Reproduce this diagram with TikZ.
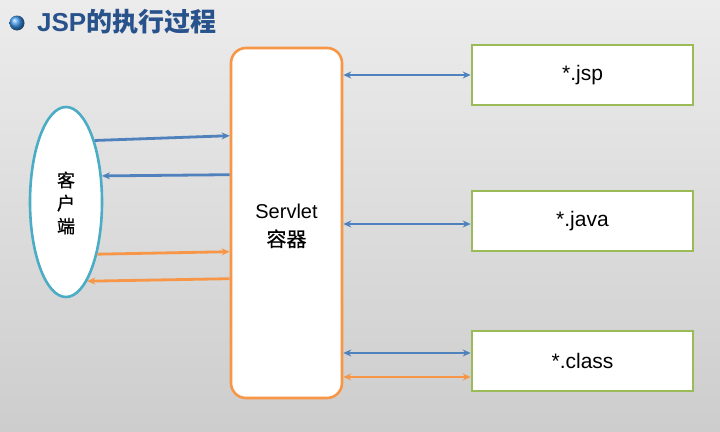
\documentclass[tikz,border=0pt]{standalone}
\usepackage{fontspec}
\setmainfont{Liberation Sans}
\newfontfamily\cjk{Noto Sans CJK SC}
\newfontfamily\cjkm[FakeBold=0.8]{Noto Sans CJK SC}
\usetikzlibrary{shapes.geometric,calc,arrows.meta}
\definecolor{bgtop}{RGB}{236,236,236}
\definecolor{bgbot}{RGB}{205,205,205}
\definecolor{titleblue}{RGB}{40,82,140}
\definecolor{arrblue}{RGB}{79,129,189}
\definecolor{ballblue}{RGB}{60,150,235}
\definecolor{arrorange}{RGB}{247,150,70}
\definecolor{ellblue}{RGB}{75,172,198}
\definecolor{boxgreen}{RGB}{155,187,89}
\tikzset{
  filebox/.style={draw=boxgreen, line width=2.6pt, fill=white, minimum width=221pt, minimum height=60pt, inner sep=0pt, font=\fontsize{21}{24}\selectfont},
  barrow/.style={draw=arrblue, line width=2.8pt, -{Stealth[length=8pt,width=7pt]}},
  oarrow/.style={draw=arrorange, line width=2.8pt, -{Stealth[length=8pt,width=7pt]}},
  bdarrow/.style={draw=arrblue, line width=2.8pt, {Stealth[length=8pt,width=7pt]}-{Stealth[length=8pt,width=7pt]}},
  odarrow/.style={draw=arrorange, line width=2.8pt, {Stealth[length=8pt,width=7pt]}-{Stealth[length=8pt,width=7pt]}},
}
\begin{document}
\begin{tikzpicture}[x=1pt,y=-1pt]
\useasboundingbox (0,0) rectangle (720,431);
\shade[top color=bgtop, bottom color=bgbot] (0,0) rectangle (720,431);
% title
\shade[ball color=ballblue] (17,23) circle (7.5);
\node[anchor=west, inner sep=0pt, text=titleblue, font=\fontsize{26}{30}\selectfont\bfseries] (title) at (37,22) {JSP{\cjk\bfseries 的执行过程}};
% client ellipse
\node[ellipse, draw=ellblue, line width=2.6pt, fill=white, minimum width=72pt, minimum height=190pt, inner sep=0pt] (ell) at (66,202) {};
\node[align=center, font=\cjkm\fontsize{18}{23}\selectfont, inner sep=0pt] (client) at (66,203) {客\\户\\端};
% servlet container
\node[draw=arrorange, line width=2.6pt, fill=white, rounded corners=15pt, minimum width=111pt, minimum height=350pt, inner sep=0pt] (cont) at (286.5,223) {};
\node[align=center, font=\fontsize{20}{28}\selectfont, inner sep=0pt] (contlabel) at (286.5,226) {Servlet\\{\cjkm 容器}};
% file boxes
\node[filebox] (jsp) at (582.5,75) {*.jsp};
\node[filebox] (java) at (582.5,221) {*.java};
\node[filebox] (cls) at (582.5,361) {*.class};
% client <-> container
\draw[barrow] (ell.65.7) -- ($(cont.north west)+(0,89)$);
\draw[barrow] ($(cont.north west)+(0,128)$) -- (ell.36.9);
\draw[oarrow] (ell.-59.2) -- ($(cont.north west)+(0,205)$);
\draw[oarrow] ($(cont.north west)+(0,232)$) -- (ell.-75.2);
% container <-> files
\draw[bdarrow] (cont.east |- jsp.west) -- (jsp.west);
\draw[bdarrow] ($(cont.east |- java.west)+(0,3)$) -- ($(java.west)+(0,3)$);
\draw[bdarrow] ($(cont.east |- cls.west)+(0,-8)$) -- ($(cls.west)+(0,-8)$);
\draw[odarrow] ($(cont.east |- cls.west)+(0,16)$) -- ($(cls.west)+(0,16)$);
\end{tikzpicture}
\end{document}
